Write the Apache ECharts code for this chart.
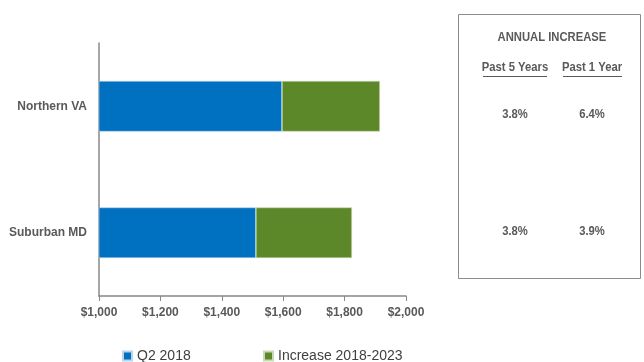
<!DOCTYPE html>
<html><head><meta charset="utf-8">
<script src="https://cdn.jsdelivr.net/npm/echarts@6/dist/echarts.min.js"></script>
<style>html,body{margin:0;padding:0;background:#fff}#c{width:644px;height:362px}</style>
</head><body><div id="c"></div>
<script>
const categories = ['Suburban MD', 'Northern VA'];
const q2_2018 = [1511, 1596];
const increase = [313, 319];
const seriesNames = ['Q2 2018', 'Increase 2018-2023'];
const tableTitle = 'ANNUAL INCREASE';
const tableHeaders = ['Past 5 Years', 'Past 1 Year'];
const past5 = ['3.8%', '3.8%']; // Suburban MD, Northern VA
const past1 = ['3.9%', '6.4%'];

const FONT = '"Liberation Sans", Arial, sans-serif';
const GRAY = '#595959';
const chart = echarts.init(document.getElementById('c'));

const colX = [515, 592];
const rowY = [232, 115];
const SX = 0.9;
const graphics = [
  {type:'rect', shape:{x:458.5, y:14.5, width:182, height:264}, style:{fill:'#fff', stroke:'#8c8c8c', lineWidth:1}},
  {type:'text', x:552, y:38, scaleX:SX, style:{text:tableTitle, font:'bold 12.5px '+FONT, fill:GRAY, textAlign:'center', textVerticalAlign:'middle'}}
];
tableHeaders.forEach((h,i)=>{
  graphics.push({type:'text', x:colX[i], y:68, scaleX:SX, style:{text:h, font:'bold 12.5px '+FONT, fill:GRAY, textAlign:'center', textVerticalAlign:'middle'}});
});
graphics.push({type:'line', shape:{x1:483, y1:76.5, x2:547, y2:76.5}, style:{stroke:GRAY, lineWidth:1}});
graphics.push({type:'line', shape:{x1:563, y1:76.5, x2:622, y2:76.5}, style:{stroke:GRAY, lineWidth:1}});
categories.forEach((c,r)=>{
  [past5[r], past1[r]].forEach((v,i)=>{
    graphics.push({type:'text', x:colX[i], y:rowY[r], scaleX:SX, style:{text:v, font:'bold 12.5px '+FONT, fill:GRAY, textAlign:'center', textVerticalAlign:'middle'}});
  });
});

chart.setOption({
  animation:false,
  textStyle:{fontFamily:FONT},
  grid:{left:99, right:238, top:43, bottom:66, containLabel:false},
  legend:[
    {data:[seriesNames[0]], left:117, top:344, itemWidth:9, itemHeight:9, icon:'rect', textStyle:{fontSize:14, color:'#404040', fontFamily:FONT}, itemGap:4},
    {data:[seriesNames[1]], left:258, top:344, itemWidth:9, itemHeight:9, icon:'rect', textStyle:{fontSize:14, color:'#404040', fontFamily:FONT}, itemGap:4}
  ],
  xAxis:{type:'value', min:1000, max:2000, interval:200,
    axisLine:{show:true, lineStyle:{color:'#888', width:1.5}},
    axisTick:{show:true, length:5, lineStyle:{color:'#888'}},
    splitLine:{show:false},
    axisLabel:{color:GRAY, fontWeight:'bold', fontSize:12, margin:11,
      formatter:v=>'$'+v.toLocaleString('en-US')}},
  yAxis:{type:'category', data:categories,
    axisLine:{show:true, lineStyle:{color:'#888', width:1.5}},
    axisTick:{show:false},
    axisLabel:{color:GRAY, fontWeight:'bold', fontSize:12, margin:12}},
  series:[
    {name:seriesNames[0], type:'bar', stack:'a', data:q2_2018, barCategoryGap:'60%',
      itemStyle:{color:'#0070C0', borderColor:'#bcd3e8', borderWidth:0.6}},
    {name:seriesNames[1], type:'bar', stack:'a', data:increase, barCategoryGap:'60%',
      itemStyle:{color:'#5C8829', borderColor:'#c9d9b8', borderWidth:0.6}}
  ],
  graphic:graphics
});
</script></body></html>
